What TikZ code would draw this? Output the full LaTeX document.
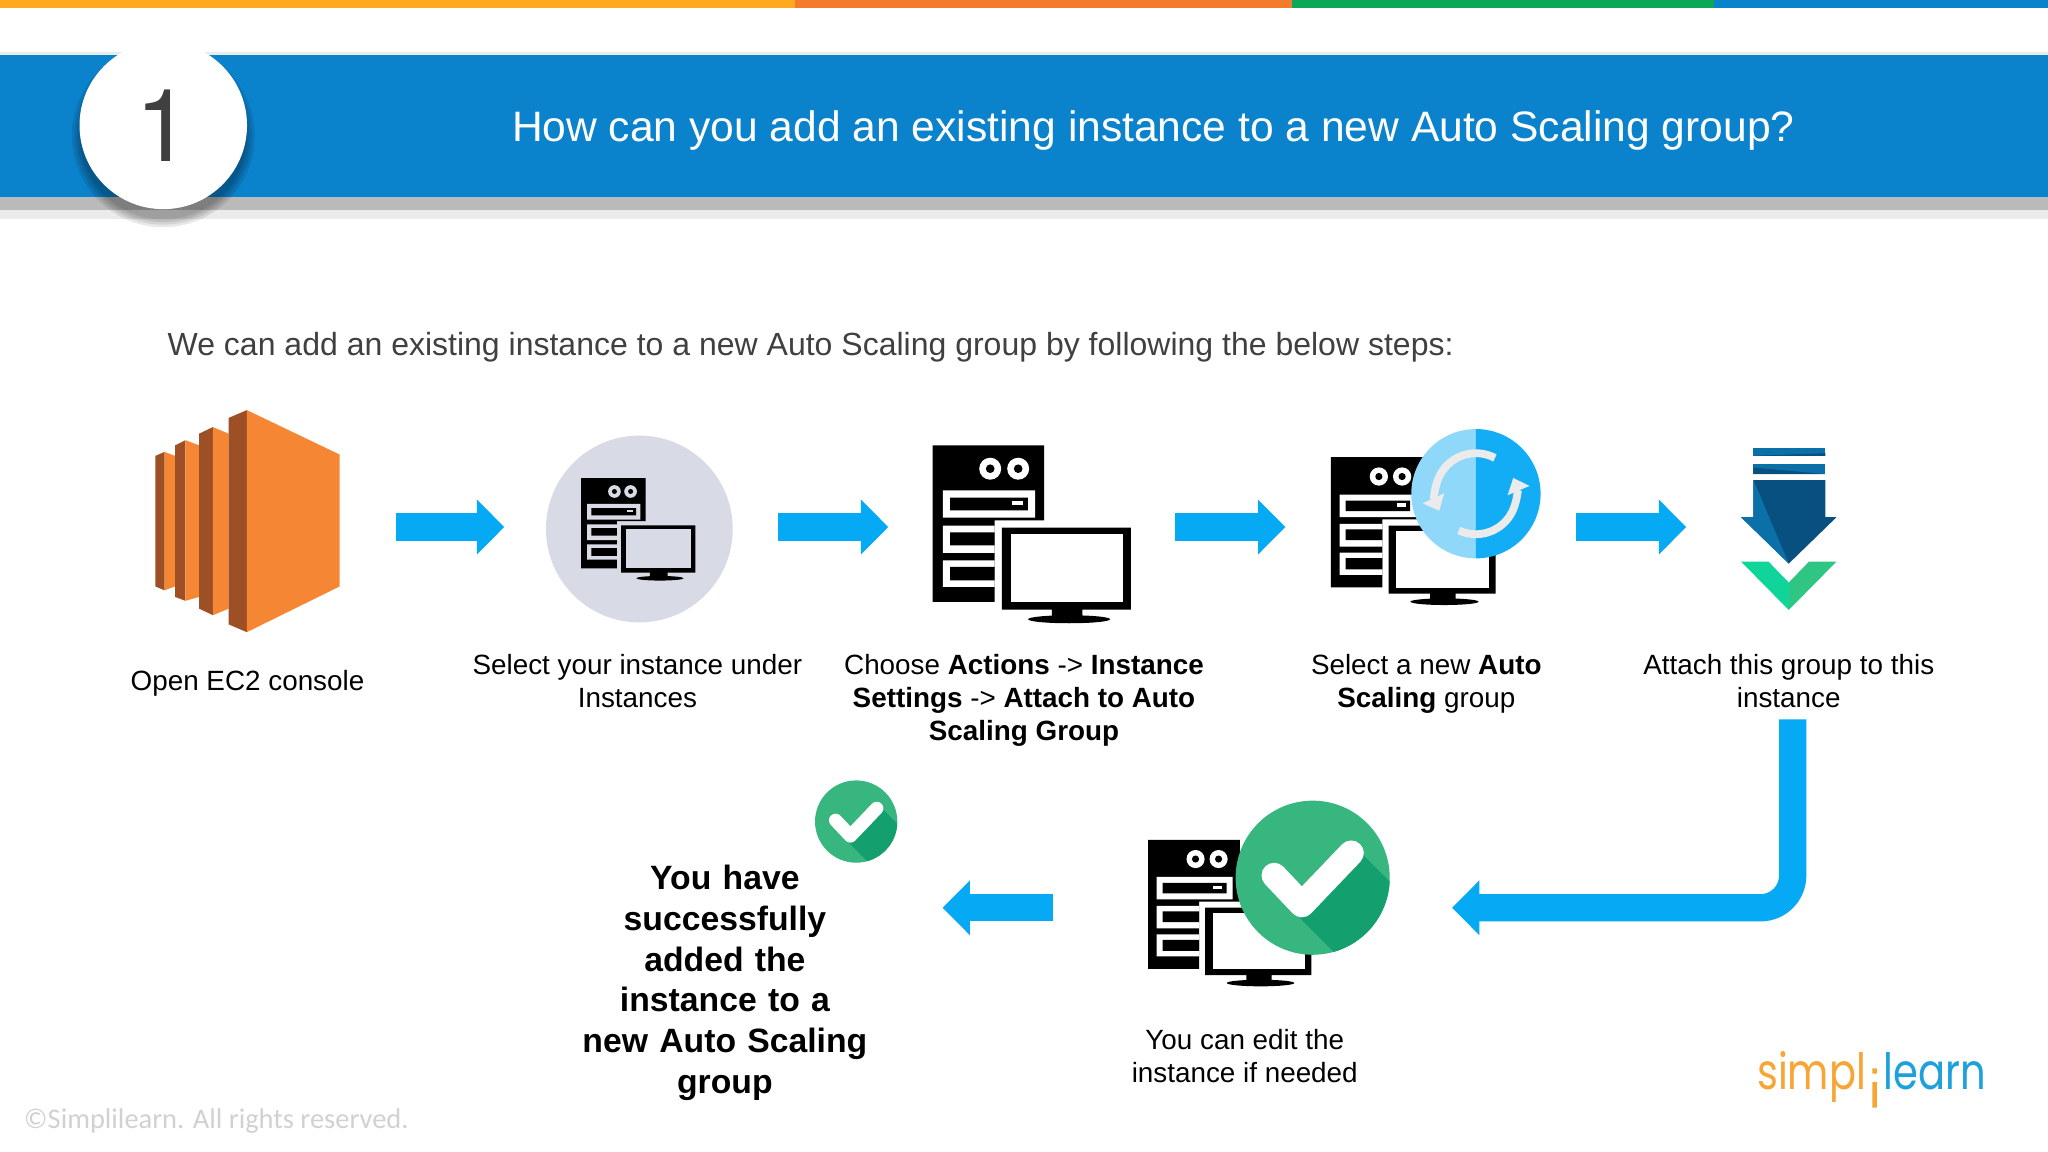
\documentclass[tikz,border=0pt]{standalone}
\usepackage{fontspec}
\usepackage{xcolor}
\usetikzlibrary{arrows.meta}
\setmainfont{Liberation Sans}
\newfontfamily\footfont{Carlito}
\newfontfamily\logofont[FakeStretch=.8]{Poppins}
\newfontfamily\numfont{TeX Gyre Heros}
\definecolor{stripa}{HTML}{FFA91E}
\definecolor{stripb}{HTML}{F47A2C}
\definecolor{stripc}{HTML}{0CA858}
\definecolor{bandblue}{HTML}{0B82CC}
\definecolor{flowblue}{HTML}{05A9F4}
\definecolor{textgray}{HTML}{404040}
\definecolor{ecorange}{HTML}{F58634}
\definecolor{ecbrown}{HTML}{9D5025}
\definecolor{okgreen}{HTML}{37B67F}
\definecolor{okdark}{HTML}{13A06E}
\definecolor{navy}{HTML}{07507F}
\definecolor{midblue}{HTML}{0B6FA8}
\definecolor{paleback}{HTML}{D8DBE5}
\definecolor{chevleft}{HTML}{10D59A}
\definecolor{chevright}{HTML}{2FC684}
\definecolor{logoorange}{HTML}{F7A535}
\definecolor{logoblue}{HTML}{1DA1DC}
\tikzset{
  iconbox/.style={inner sep=0pt,minimum height=#1},
  steplabel/.style={align=center,font=\fontsize{12.13}{14.4}\selectfont,text=black},
  flowarrow/.style={draw=flowblue,line width=11.9pt,-{Triangle[length=11.9pt,width=23.2pt]}},
  syncarrow/.style={draw=white!92!black,line width=3.4pt,-{Triangle[length=6pt,width=10pt]}},
  pics/serverpic/.style={code={
    \fill[black] (0,0) -- (335,0) -- (335,225) -- (186,225) -- (186,470) -- (0,470) -- cycle;
    \fill[#1] (173,70) circle (33) (257,70) circle (33);
    \fill[black] (173,70) circle (13) (257,70) circle (13);
    \fill[#1] (31,135) rectangle (308,217) (31,241) rectangle (186,323) (31,345) rectangle (186,425);
    \fill[black] (53,157) rectangle (286,195) (53,261) rectangle (186,300) (53,365) rectangle (186,405);
    \fill[#1] (238,167) rectangle (270,179);
    \fill[black] (208,247) rectangle (595,493) (358,493) rectangle (450,515);
    \fill[#1] (235,267) rectangle (571,471);
    \fill[black] (410,522) ellipse [x radius=123,y radius=12];
  }},
  pics/checkbadge/.style={code={
    \fill[okgreen] (0,0) circle (100);
    \begin{scope}
      \clip (0,0) circle (100);
      \fill[okdark] (66,-29) -- (196,101) -- (114,183) -- (-16,53) -- cycle;
    \end{scope}
    \draw[white,line width=#1,line cap=round,line join=round] (-50,-3) -- (-14,35) -- (50,-32);
  }}
}
\begin{document}
\begin{tikzpicture}[x=0.02cm,y=-0.02cm]
   \useasboundingbox (0,0) rectangle (1568,882);
   \fill[white] (0,0) rectangle (1568,882);
   \fill[stripa] (0,0) rectangle (609,6);
   \fill[stripb] (609,0) rectangle (989,6);
   \fill[stripc] (989,0) rectangle (1312,6);
   \fill[bandblue] (1312,0) rectangle (1568,6);
   \fill[black!8] (0,40) rectangle (1568,42);
   \fill[bandblue] (0,42) rectangle (1568,151);
   \fill[black!27] (0,151) rectangle (1568,161);
   \fill[black!8] (0,161) rectangle (1568,168);
   \foreach \rr in {70,68,66,64}
     \fill[black,opacity=.09] (125,104) circle (\rr);
   \node[circle,fill=white,minimum size=73pt,inner sep=0pt,text=textgray,font=\numfont\fontsize{44}{44}\selectfont] (stepno) at (125,96) {\raisebox{-1pt}{1}};
   \node[text=white,font=\fontsize{18.55}{22}\selectfont] (title) at (883,100) {How can you add an existing instance to a new Auto Scaling group?};
   \node[anchor=west,inner sep=0pt,text=textgray,font=\fontsize{13.95}{16}\selectfont] (intro) at (128,266) {We can add an existing instance to a new Auto Scaling group by following the below steps:};

   \node[iconbox=20pt,minimum width=227*.5669pt] (ec2) at (189.5,403.5) {};
   \node[iconbox=20pt,minimum width=210*.5669pt] (inst) at (491,403.5) {};
   \node[iconbox=20pt,minimum width=220*.5669pt] (actions) at (790,403.5) {};
   \node[iconbox=20pt,minimum width=223*.5669pt] (group) at (1095.5,403.5) {};
   \node[iconbox=295*.5669pt,minimum width=163*.5669pt] (attach) at (1372.5,403.5) {};
   \node[iconbox=20pt,minimum width=306*.5669pt] (edit) at (959,695) {};

   \fill[ecbrown] (119,349) -- (126,346) -- (126,452) -- (119,449) -- cycle;
   \fill[ecorange] (126,346) -- (134,349) -- (134,449) -- (126,452) -- cycle;
   \fill[ecbrown] (134,341) -- (142,337) -- (142,460) -- (134,457) -- cycle;
   \fill[ecorange] (142,337) -- (152.5,341) -- (152.5,457) -- (142,460) -- cycle;
   \fill[ecbrown] (152.5,332) -- (163,327) -- (163,471) -- (152.5,466) -- cycle;
   \fill[ecorange] (163,327) -- (175,332) -- (175,466) -- (163,471) -- cycle;
   \fill[ecbrown] (175,320) -- (189,314) -- (189,484) -- (175,478) -- cycle;
   \fill[ecorange] (189,314) -- (260,348) -- (260,449) -- (189,484) -- cycle;

   \fill[paleback] (489.5,405) circle (71.5);
   \pic[scale=.147] at (445,366) {serverpic=paleback};
   \pic[scale=.255] at (714,341) {serverpic=white};
   \pic[scale=.212] at (1019,350) {serverpic=white};

   \fill[flowblue!45!white] (1130,328.5) arc (-90:-270:49.5) -- cycle;
   \fill[flowblue!95!white] (1130,328.5) arc (-90:90:49.5) -- cycle;
   \draw[syncarrow] (1130,378) ++(-62:31) arc (-62:-205:31);
   \draw[syncarrow] (1130,378) ++(-245:31) arc (-245:-383:31);

   \fill[midblue] (1342.5,343) rectangle (1397.5,349);
   \fill[navy] (1342.5,349) -- (1397.5,347) -- (1397.5,349) -- cycle;
   \fill[midblue] (1342.5,355) rectangle (1397.5,363);
   \fill[navy] (1342.5,358) -- (1397.5,363) -- (1342.5,363) -- cycle;
   \fill[navy] (1342.5,367.5) -- (1397.5,367.5) -- (1397.5,396) -- (1406,396) -- (1369.5,431.5) -- (1333,396) -- (1342.5,396) -- cycle;
   \fill[midblue] (1342.5,367.5) -- (1369.5,431.5) -- (1333,396) -- (1342.5,396) -- cycle;
   \fill[chevleft] (1333,430) -- (1354,430) -- (1369.5,446) -- (1369.5,467) -- cycle;
   \fill[chevright] (1406,430) -- (1385,430) -- (1369.5,446) -- (1369.5,467) -- cycle;

   \pic[scale=.21] at (879,643) {serverpic=white};
   \pic[scale=.59] at (1005,672) {checkbadge=11pt};
   \pic[scale=.315] at (655.5,629) {checkbadge=5.8pt};

   \node[steplabel] (ec2text) at (189.5,523) {Open EC2 console};
   \node[steplabel] (insttext) at (488,521.5) {Select your instance under\\Instances};
   \node[steplabel] (actionstext) at (784,536) {Choose \textbf{Actions} -> \textbf{Instance}\\\textbf{Settings} -> \textbf{Attach to Auto}\\\textbf{Scaling Group}};
   \node[steplabel] (grouptext) at (1092,523.5) {Select a new \textbf{Auto}\\\textbf{Scaling} group};
   \node[steplabel] (attachtext) at (1369.5,521.5) {Attach this group to this\\instance};
   \node[steplabel] (edittext) at (953,808.5) {You can edit the\\instance if needed};
   \node[align=center,inner sep=0pt,text width=334*.5669pt,font=\fontsize{14.7}{17.8}\selectfont\bfseries] (done) at (555,752.5) {You have\\successfully\\added the\\instance to a\\new Auto Scaling\\group};

   \draw[flowarrow] (ec2.east) -- (inst.west);
   \draw[flowarrow] (inst.east) -- (actions.west);
   \draw[flowarrow] (actions.east) -- (group.west);
   \draw[flowarrow] (group.east) -- (attach.west);
   \draw[flowarrow,rounded corners=14pt] (attach.south) |- (edit.east);
   \draw[flowarrow] (edit.west) -- (edit.west -| done.east);

   \node[anchor=west,inner sep=0pt,text=black!18,font=\footfont\fontsize{12.4}{14}\selectfont] (copyright) at (18,858.5) {©Simplilearn. All rights reserved.};
   \node[anchor=base east,inner sep=0pt,text=logoorange,font=\logofont\fontsize{21.8}{24}\selectfont] (logoa) at (1429,834) {simpl};
   \node[anchor=base west,inner sep=0pt,text=logoblue,font=\logofont\fontsize{21.8}{24}\selectfont] (logob) at (1442,834) {learn};
   \fill[logoorange] (1433.5,818) rectangle (1437,822) (1433.5,828.5) rectangle (1437,848);
\end{tikzpicture}
\end{document}
